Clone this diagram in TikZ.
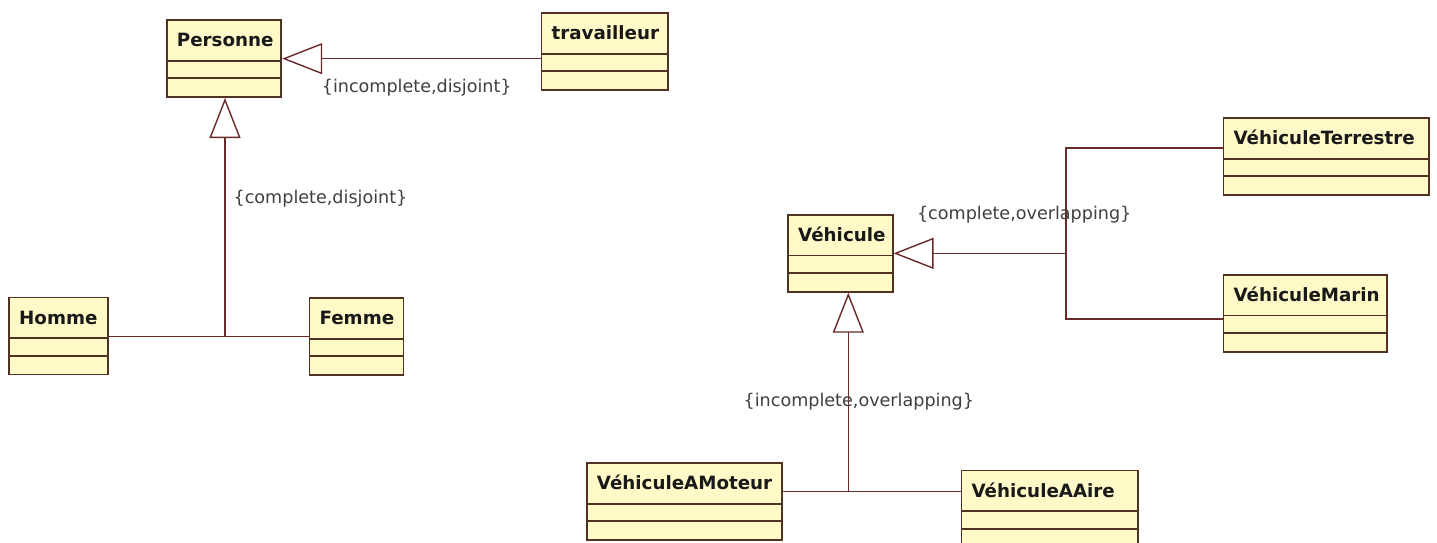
\documentclass[tikz,border=0pt]{standalone}
\usepackage{fontspec}
\setmainfont{DejaVu Sans}
\usepackage{tikz}
\usetikzlibrary{arrows.meta}
\definecolor{boxfill}{RGB}{255,250,200}
\definecolor{boxline}{RGB}{82,50,34}
\definecolor{linecol}{RGB}{105,42,42}
\tikzset{
    classbox/.style={
        draw=boxline, fill=boxfill, line width=1pt, anchor=north west,
        inner xsep=0.2cm, inner ysep=0pt, text height=0.53cm, text depth=1.01cm,
        text width=#1, align=left, text=black!90,
        font=\fontsize{10.4}{12}\selectfont\bfseries
    },
    constraint/.style={anchor=west, inner sep=0pt, text=black!75, font=\fontsize{10}{12}\selectfont},
    gen/.style={draw=linecol, line width=0.8pt, -{Triangle[open, length=0.8cm, width=0.62cm]}},
    assoc/.style={draw=linecol, line width=0.8pt},
}

\begin{document}
\begin{tikzpicture}[x=0.02cm, y=-0.02cm]
\clip (0,0) rectangle (1437,543);
\fill[white] (0,0) rectangle (1437,543);
\node[classbox=1.89cm] (personne) at (166,19.3) {Personne};
\node[classbox=2.13cm] (travailleur) at (540.7,12.3) {travailleur};
\node[classbox=1.58cm] (homme) at (8.3,296.7) {Homme};
\node[classbox=1.48cm] (femme) at (308.7,297.3) {Femme};
\node[classbox=1.69cm] (vehicule) at (787.3,214) {Véhicule};
\node[classbox=3.71cm] (vterre) at (1222.7,117.3) {VéhiculeTerrestre};
\node[classbox=2.87cm] (vmarin) at (1222.7,274) {VéhiculeMarin};
\node[classbox=3.51cm] (vmoteur) at (586,462.3) {VéhiculeAMoteur};
\node[classbox=3.13cm] (vaire) at (960.7,469.7) {VéhiculeAAire};
\foreach \c in {personne,travailleur,homme,femme,vehicule,vterre,vmarin,vmoteur,vaire}{
    \draw[boxline, line width=1pt] ([yshift=-0.83cm]\c.north west) -- ([yshift=-0.83cm]\c.north east);
    \draw[boxline, line width=1pt] ([yshift=-1.18cm]\c.north west) -- ([yshift=-1.18cm]\c.north east);
}
\coordinate (pfork) at (225,336.7);
\coordinate (vfork) at (1066,252.5);
\coordinate (mfork) at (848.3,491.7);
\draw[gen] (travailleur.west |- personne.east) -- (personne.east);
\draw[assoc] (homme.east |- pfork) -- (femme.west |- pfork);
\draw[gen] (pfork) -- (personne.south -| pfork);
\draw[gen] (vfork |- vehicule.east) -- (vehicule.east);
\draw[assoc] ([yshift=0.17cm]vterre.west) -| (vfork |- vehicule.east) |- ([yshift=-0.11cm]vmarin.west);
\draw[assoc] (vmoteur.east |- mfork) -- (vaire.west |- mfork);
\draw[gen] (mfork) -- (vehicule.south -| mfork);
\node[constraint] (c1) at (321.5,88) {\{incomplete,disjoint\}};
\node[constraint] (c2) at (233.3,199) {\{complete,disjoint\}};
\node[constraint] (c3) at (916.7,215) {\{complete,overlapping\}};
\node[constraint] (c4) at (743.3,402) {\{incomplete,overlapping\}};
\end{tikzpicture}
\end{document}
